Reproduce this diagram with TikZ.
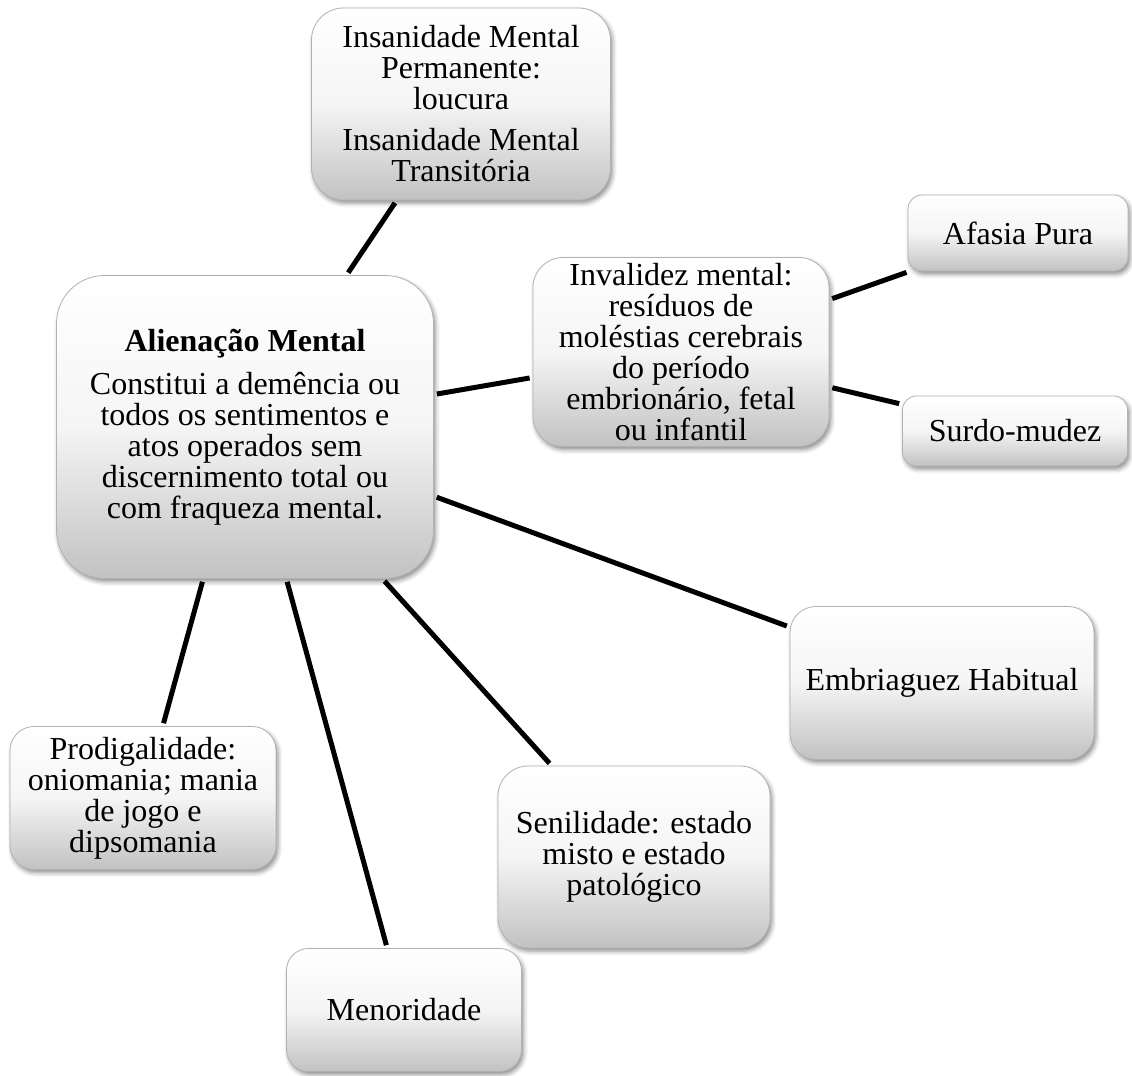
\documentclass[tikz,border=0pt]{standalone}
\usepackage{fontspec}
\setmainfont{Liberation Serif}
\usetikzlibrary{shadows.blur}

\tikzset{
  caixa/.style={draw=black!30, line width=0.4pt, top color=white, bottom color=black!24,
    middle color=black!4, align=center, inner sep=0pt,
    font=\fontsize{16}{15.5}\selectfont,
    blur shadow={shadow xshift=1pt, shadow yshift=-1.6pt, shadow blur radius=2.2pt, shadow opacity=45}},
  liga/.style={line width=2.5pt, shorten <=1.5pt, shorten >=1.5pt}
}

\begin{document}
\begin{tikzpicture}[x=0.5pt,y=-0.5pt]
\useasboundingbox (0,0) rectangle (1132,1076);
% caixas
\node[caixa, minimum width=149.5pt, minimum height=96pt, rounded corners=16pt] (insan) at (461,104)
  {Insanidade Mental\\Permanente:\\loucura\\[5pt]Insanidade Mental\\Transitória};
\node[caixa, minimum width=188.5pt, minimum height=151.5pt, rounded corners=24pt] (alien) at (245,427)
  {\textbf{Alienação Mental}\\[6pt]Constitui a demência ou\\todos os sentimentos e\\atos operados sem\\discernimento total ou\\com fraqueza mental.};
\node[caixa, minimum width=148pt, minimum height=94.5pt, rounded corners=15pt] (inval) at (681,352)
  {Invalidez mental:\\resíduos de\\moléstias cerebrais\\do período\\embrionário, fetal\\ou infantil};
\node[caixa, minimum width=110pt, minimum height=38pt, rounded corners=7pt] (afasia) at (1018,233) {Afasia Pura};
\node[caixa, minimum width=112.5pt, minimum height=35pt, rounded corners=7pt] (surdo) at (1015,431) {Surdo-mudez};
\node[caixa, minimum width=152pt, minimum height=76.5pt, rounded corners=13pt] (embri) at (942,683) {Embriaguez Habitual};
\node[caixa, minimum width=136pt, minimum height=91pt, rounded corners=15pt] (senil) at (634,857)
  {Senilidade: estado\\misto e estado\\patológico};
\node[caixa, minimum width=133pt, minimum height=71.5pt, rounded corners=12pt] (prodig) at (143,798)
  {Prodigalidade:\\oniomania; mania\\de jogo e\\dipsomania};
\node[caixa, minimum width=117.5pt, minimum height=61.5pt, rounded corners=11pt] (menor) at (404,1010) {Menoridade};
% ligacoes
\draw[liga] (alien) -- (insan);
\draw[liga] (alien) -- (inval);
\draw[liga] (inval) -- (afasia);
\draw[liga] (inval) -- (surdo);
\draw[liga] (alien) -- (embri);
\draw[liga] (alien) -- (senil);
\draw[liga] (alien) -- (menor);
\draw[liga] (alien) -- (prodig);
\end{tikzpicture}
\end{document}
